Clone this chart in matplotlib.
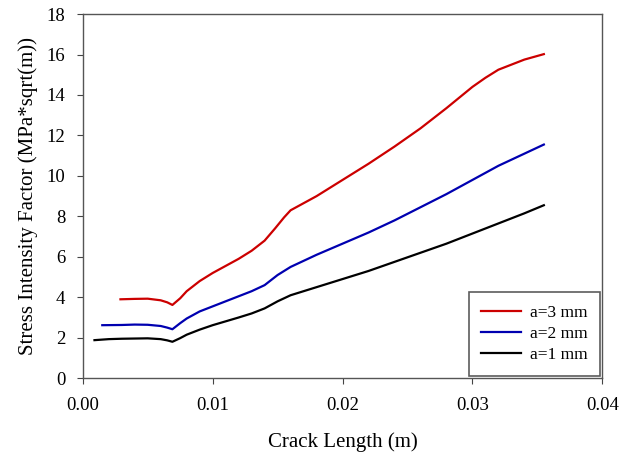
import numpy as np
import matplotlib.pyplot as plt

# crack length (m) and stress intensity factor (MPa*sqrt(m))
x_a3 = [0.0029, 0.004, 0.005, 0.006, 0.0065, 0.0069, 0.0075, 0.008, 0.009, 0.010, 0.011, 0.012,
        0.013, 0.014, 0.0148, 0.0155, 0.016, 0.018, 0.020, 0.022, 0.024, 0.026, 0.028, 0.030,
        0.031, 0.032, 0.034, 0.0355]
k_a3 = [3.9, 3.92, 3.93, 3.85, 3.75, 3.62, 3.95, 4.3, 4.8, 5.2, 5.55, 5.9,
        6.3, 6.8, 7.4, 7.95, 8.3, 9.0, 9.8, 10.6, 11.45, 12.35, 13.35, 14.4,
        14.85, 15.25, 15.75, 16.02]

x_a2 = [0.0015, 0.003, 0.004, 0.005, 0.006, 0.0065, 0.0069, 0.0075, 0.008, 0.009, 0.010, 0.012,
        0.013, 0.014, 0.015, 0.016, 0.018, 0.020, 0.022, 0.024, 0.026, 0.028, 0.030, 0.032,
        0.034, 0.0355]
k_a2 = [2.62, 2.63, 2.65, 2.64, 2.58, 2.5, 2.42, 2.72, 2.95, 3.3, 3.55, 4.05,
        4.3, 4.6, 5.1, 5.5, 6.1, 6.65, 7.2, 7.8, 8.45, 9.1, 9.8, 10.5,
        11.1, 11.55]

x_a1 = [0.0009, 0.002, 0.003, 0.004, 0.005, 0.006, 0.0065, 0.0069, 0.0075, 0.008, 0.009, 0.010,
        0.012, 0.013, 0.014, 0.015, 0.016, 0.018, 0.020, 0.022, 0.024, 0.026, 0.028, 0.030,
        0.032, 0.034, 0.0355]
k_a1 = [1.88, 1.93, 1.95, 1.96, 1.97, 1.93, 1.87, 1.8, 1.98, 2.15, 2.4, 2.62,
        3.0, 3.2, 3.45, 3.8, 4.1, 4.5, 4.9, 5.3, 5.75, 6.2, 6.65, 7.15,
        7.65, 8.15, 8.55]

plt.rcParams['font.family'] = ['Liberation Serif', 'DejaVu Serif']

fig = plt.figure(figsize=(6.32, 4.54), dpi=100)
ax = fig.add_axes([0.131, 0.167, 0.822, 0.802])

ax.plot(x_a3, k_a3, color='#cc0000', lw=1.6, label='a=3 mm')
ax.plot(x_a2, k_a2, color='#0000b0', lw=1.6, label='a=2 mm')
ax.plot(x_a1, k_a1, color='black', lw=1.6, label='a=1 mm')

ax.set_xlim(0, 0.04)
ax.set_ylim(0, 18)
ax.set_xticks(np.arange(0, 0.041, 0.01))
ax.set_xticklabels(['0.00', '0.01', '0.02', '0.03', '0.04'])
ax.set_yticks(range(0, 19, 2))
ax.tick_params(direction='out', length=4.5, width=0.8, labelsize=13.5, color='#444444')
ax.tick_params(axis='x', pad=9)
ax.tick_params(axis='y', pad=8)
for s in ax.spines.values():
    s.set_color('#555555')
    s.set_linewidth(1.0)

ax.set_xlabel('Crack Length (m)', fontsize=15, labelpad=13)
ax.set_ylabel('Stress Intensity Factor (MPa*sqrt(m))', fontsize=15, labelpad=6)

leg = ax.legend(loc='lower right', fontsize=12.5, fancybox=False, frameon=True,
                handlelength=2.3, handletextpad=0.5, borderaxespad=0.15,
                borderpad=0.7, labelspacing=0.3)
leg.get_frame().set_edgecolor('#333333')
leg.get_frame().set_linewidth(1.2)

plt.savefig('out.png', dpi=100)
